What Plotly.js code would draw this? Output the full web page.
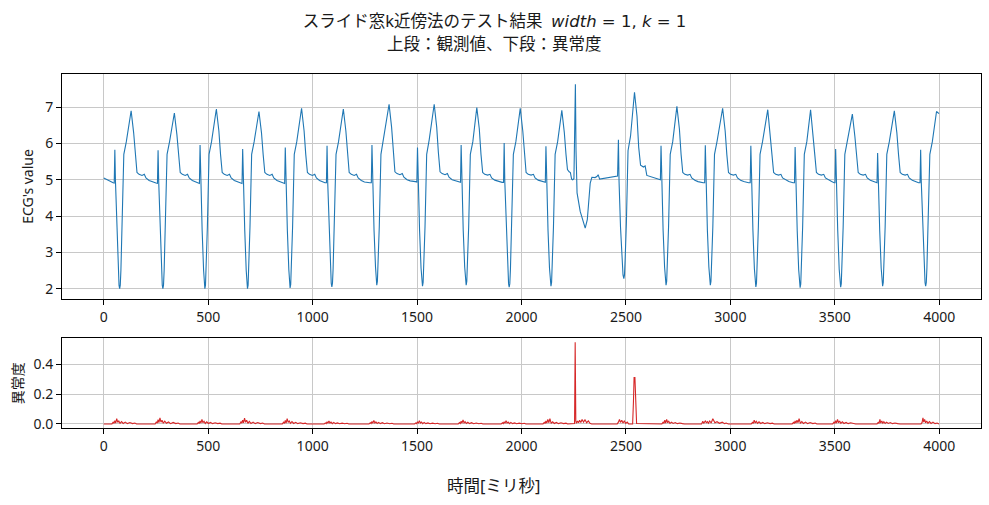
<!DOCTYPE html>
<html>
<head>
<meta charset="utf-8">
<script src="https://cdn.plot.ly/plotly-3.0.1.min.js"></script>
<style>html,body{margin:0;padding:0;background:#fff;}#chart{width:989px;height:505px;}</style>
</head>
<body>
<div id="chart"></div>
<script>
const ecgTime = [
  0,15,30,45,50,
  53,56,63,70,73,76,79,82,88,96,108,131,143,151,159,169,183,194,202,217,232,250,257,
  260,263,270,277,280,283,286,289,295,303,315,338,350,358,366,376,390,401,409,424,439,451,458,
  461,464,471,478,481,484,487,490,496,504,516,539,551,559,567,577,591,602,610,625,640,655,662,
  665,668,675,682,685,688,691,694,700,708,720,743,755,763,771,781,795,806,814,829,844,859,866,
  869,872,879,886,889,892,895,898,904,912,924,947,959,967,975,985,999,1010,1018,1033,1048,1059,1066,
  1069,1072,1079,1086,1089,1092,1095,1098,1104,1112,1124,1147,1159,1167,1175,1185,1199,1210,1218,1233,1248,1274,1281,
  1284,1287,1294,1301,1304,1307,1310,1313,1319,1327,1339,1366,1378,1386,1394,1404,1418,1429,1437,1452,1467,1492,1499,
  1502,1505,1512,1519,1523,1526,1529,1532,1538,1546,1558,1582,1594,1602,1610,1620,1634,1645,1653,1668,1683,1701,1708,
  1711,1714,1721,1728,1732,1735,1738,1741,1747,1755,1767,1786,1798,1806,1814,1824,1838,1849,1857,1872,1887,1907,1914,
  1917,1920,1927,1934,1938,1941,1944,1947,1953,1961,1973,1994,2006,2014,2022,2032,2046,2057,2065,2080,2095,2107,2114,
  2117,2120,2127,2134,2138,2141,2144,2147,2153,2161,2173,2193,2205,2213,2220,2228,2234,2240,2245,2251,
  2258,2261,2266,2281,2305,2315,2329,2337,2352,2361,2367,2374,2408,2440,2460,
  2464,2467,2474,2481,2486,2490,2493,2496,2502,2510,2522,2541,2553,2561,2570,2584,2592,2600,2616,2640,2658,2665,
  2668,2671,2678,2685,2689,2692,2695,2698,2704,2712,2724,2744,2756,2764,2772,2782,2796,2807,2815,2830,2845,2870,2877,
  2880,2883,2890,2897,2901,2904,2907,2910,2916,2924,2936,2963,2975,2983,2991,3001,3015,3026,3034,3049,3064,3088,3095,
  3098,3101,3108,3115,3119,3122,3125,3128,3134,3142,3154,3179,3191,3199,3207,3217,3231,3242,3250,3265,3280,3300,3307,
  3310,3313,3320,3327,3331,3334,3337,3340,3346,3354,3366,3384,3396,3404,3412,3422,3436,3447,3455,3470,3485,3497,3501,
  3504,3507,3514,3521,3525,3528,3531,3534,3540,3548,3560,3584,3596,3604,3612,3622,3636,3647,3655,3670,3685,3698,3702,
  3705,3708,3715,3722,3726,3729,3732,3735,3741,3749,3761,3785,3797,3805,3813,3823,3837,3848,3856,3871,3886,3901,3908,
  3911,3914,3921,3928,3932,3935,3938,3941,3947,3955,3967,3987,3999
];
const ecgValue = [
  5.05,5.0,4.96,4.92,4.91,
  5.83,4.95,3.6,2.5,2.1,2.0,2.1,2.5,3.7,5.7,6.05,6.90,6.3,5.7,5.2,5.15,5.12,5.15,5.05,4.98,4.94,4.91,4.9,
  5.81,4.95,3.6,2.5,2.1,2.0,2.1,2.5,3.7,5.7,6.05,6.84,6.25,5.7,5.2,5.15,5.12,5.15,5.05,4.98,4.94,4.91,4.9,
  5.96,4.95,3.6,2.5,2.1,2.0,2.1,2.5,3.7,5.7,6.05,6.95,6.35,5.7,5.2,5.15,5.12,5.15,5.05,4.98,4.94,4.91,4.9,
  5.85,4.95,3.6,2.5,2.1,2.0,2.1,2.5,3.7,5.7,6.05,6.88,6.3,5.7,5.2,5.15,5.12,5.15,5.05,4.98,4.94,4.91,4.9,
  5.89,4.95,3.6,2.52,2.12,2.02,2.12,2.52,3.7,5.7,6.05,6.97,6.35,5.7,5.2,5.15,5.12,5.15,5.05,4.98,4.94,4.92,4.92,
  5.94,4.95,3.6,2.55,2.15,2.05,2.15,2.55,3.7,5.7,6.05,6.95,6.35,5.7,5.2,5.15,5.12,5.15,5.05,4.98,4.94,4.92,4.92,
  5.96,4.95,3.6,2.6,2.2,2.1,2.2,2.6,3.7,5.7,6.1,7.08,6.45,5.75,5.22,5.17,5.14,5.17,5.07,5.0,4.97,4.95,4.94,
  5.89,4.95,3.6,2.57,2.17,2.07,2.17,2.57,3.7,5.7,6.1,7.08,6.45,5.75,5.22,5.17,5.14,5.17,5.07,5.0,4.97,4.94,4.93,
  5.96,4.95,3.6,2.6,2.2,2.1,2.2,2.6,3.7,5.7,6.05,6.99,6.4,5.7,5.2,5.15,5.13,5.15,5.05,4.99,4.96,4.93,4.93,
  6.01,4.95,3.6,2.54,2.14,2.04,2.14,2.54,3.7,5.7,6.05,6.97,6.35,5.7,5.2,5.15,5.13,5.15,5.05,4.99,4.96,4.93,4.93,
  5.92,4.95,3.6,2.57,2.17,2.07,2.17,2.57,3.7,5.7,6.05,6.91,6.3,5.7,5.28,5.22,5.2,5.02,5.0,5.03,
  7.63,5.8,4.64,4.13,3.67,3.9,4.91,5.07,5.06,5.09,5.14,5.02,5.05,5.08,5.1,
  6.1,4.95,3.7,2.78,2.38,2.28,2.38,2.78,3.8,5.8,6.2,7.41,6.75,5.9,5.4,5.35,5.38,5.12,5.09,5.05,5.0,5.0,
  5.94,4.95,3.6,2.6,2.2,2.1,2.2,2.6,3.7,5.7,6.05,7.02,6.4,5.7,5.2,5.15,5.13,5.15,5.05,4.99,4.95,4.92,4.92,
  5.95,4.95,3.6,2.6,2.2,2.1,2.2,2.6,3.7,5.7,6.05,6.97,6.35,5.7,5.2,5.15,5.13,5.15,5.05,4.99,4.95,4.92,4.92,
  5.94,4.95,3.6,2.55,2.15,2.05,2.15,2.55,3.7,5.7,6.05,6.93,6.3,5.7,5.2,5.15,5.13,5.15,5.05,4.99,4.95,4.92,4.92,
  5.9,4.95,3.6,2.53,2.13,2.03,2.13,2.53,3.7,5.7,6.05,6.93,6.3,5.7,5.2,5.15,5.13,5.15,5.05,4.99,4.95,4.92,4.92,
  5.85,4.95,3.6,2.54,2.14,2.04,2.14,2.54,3.7,5.7,6.05,6.81,6.2,5.65,5.2,5.15,5.13,5.15,5.05,4.99,4.95,4.92,4.92,
  5.74,4.95,3.6,2.57,2.17,2.07,2.17,2.57,3.7,5.7,6.05,6.9,6.3,5.7,5.2,5.15,5.13,5.15,5.05,4.99,4.95,4.92,4.92,
  5.83,4.95,3.6,2.57,2.17,2.07,2.17,2.57,3.7,5.7,6.05,6.88,6.82
];

// Anomaly score (time in ms, score)
const scoreTime = [
  0,
  39,45,49,53,57,62,67,72,78,85,93,103,113,125,138,149,157,
  246,252,256,260,264,269,274,279,285,292,300,310,320,332,345,356,364,
  447,453,457,461,465,470,475,480,486,493,501,511,521,533,546,557,565,
  651,657,661,665,669,674,679,684,690,697,705,715,725,737,750,761,769,
  855,861,865,869,873,878,883,888,894,901,909,919,929,941,954,965,973,
  1055,1061,1065,1069,1073,1078,1083,1088,1094,1101,1109,1119,1129,1141,1154,1165,1173,
  1270,1276,1280,1284,1288,1293,1298,1303,1309,1316,1324,1334,1344,1356,1369,1380,1388,
  1488,1494,1498,1502,1506,1511,1516,1521,1527,1534,1542,1552,1562,1574,1587,1598,1606,
  1697,1703,1707,1711,1715,1720,1725,1730,1736,1743,1751,1761,1771,1783,1796,1807,1815,
  1903,1909,1913,1917,1921,1926,1931,1936,1942,1949,1957,1967,1977,1989,2002,2013,2021,
  2103,2109,2113,2117,2121,2126,2131,2136,2142,2149,2157,2167,2177,2189,2202,2213,2221,
  2254,2257,2260,
  2263,2268,2273,2278,2284,2290,2297,2304,2312,2320,2328,2336,
  2458,2464,2469,2474,2480,2486,2492,2499,2506,2513,
  2532,2536,2539,2543,2547,2551,
  2672,2678,2682,2686,2690,2695,2700,2705,2711,2718,2726,2736,2746,2758,2771,2780,
  2862,2868,2872,2876,2880,2885,2890,2895,2901,2908,2916,2926,2936,2948,2961,2972,2980,2990,
  3100,3106,3110,3114,3119,3124,3130,3137,3145,3155,3165,3177,3190,3201,3210,
  3296,3302,3306,3310,3314,3319,3324,3329,3335,3342,3350,3360,3370,3382,3395,3406,3414,
  3490,3496,3500,3504,3508,3513,3518,3523,3529,3536,3544,3554,3564,3576,3589,3600,
  3702,3708,3712,3716,3720,3725,3730,3735,3741,3748,3756,3766,3776,3788,3801,3812,
  3913,3918,3922,3926,3930,3935,3940,3946,3953,3961,3970,3980,3990,3999
];
const scoreValue = [
  0,
  0,0.012,0.004,0.022,0.006,0.035,0.01,0.02,0.004,0.016,0.003,0.012,0.002,0.009,0.002,0.006,0,
  0,0.015,0.005,0.028,0.008,0.04,0.012,0.025,0.005,0.018,0.004,0.013,0.002,0.01,0.002,0.006,0,
  0,0.01,0.003,0.02,0.005,0.03,0.008,0.018,0.003,0.014,0.003,0.01,0.002,0.008,0.002,0.005,0,
  0,0.014,0.005,0.026,0.007,0.038,0.011,0.024,0.004,0.017,0.003,0.012,0.002,0.009,0.002,0.006,0,
  0,0.012,0.004,0.024,0.006,0.036,0.01,0.02,0.004,0.015,0.003,0.011,0.002,0.008,0.002,0.005,0,
  0,0.007,0.002,0.014,0.004,0.02,0.006,0.012,0.002,0.01,0.002,0.007,0.001,0.005,0.001,0.004,0,
  0,0.008,0.003,0.016,0.004,0.024,0.006,0.014,0.003,0.01,0.002,0.008,0.001,0.006,0.001,0.004,0,
  0,0.007,0.002,0.015,0.004,0.022,0.006,0.013,0.002,0.01,0.002,0.007,0.001,0.005,0.001,0.004,0,
  0,0.009,0.003,0.018,0.005,0.027,0.007,0.015,0.003,0.011,0.002,0.008,0.001,0.006,0.001,0.004,0,
  0,0.008,0.003,0.015,0.004,0.022,0.006,0.013,0.002,0.01,0.002,0.007,0.001,0.005,0.001,0.004,0,
  0,0.01,0.003,0.02,0.005,0.03,0.008,0.035,0.004,0.014,0.003,0.01,0.002,0.008,0.002,0.005,0,
  0.003,0.546,0.02,
  0.005,0.02,0.008,0.025,0.01,0.03,0.012,0.028,0.008,0.02,0.004,0,
  0,0.012,0.03,0.01,0.025,0.006,0.02,0.004,0.012,0,
  0,0.15,0.31,0.31,0.15,0.003,
  0,0.012,0.004,0.025,0.006,0.03,0.008,0.018,0.003,0.012,0.003,0.009,0.002,0.006,0.002,0,
  0,0.018,0.004,0.01,0.02,0.008,0.015,0.005,0.02,0.006,0.035,0.008,0.015,0.004,0.012,0.002,0.006,0,
  0,0.01,0.004,0.025,0.006,0.018,0.004,0.014,0.003,0.01,0.002,0.008,0.002,0.005,0,
  0,0.01,0.003,0.02,0.005,0.025,0.008,0.035,0.004,0.016,0.003,0.012,0.002,0.009,0.002,0.006,0,
  0,0.012,0.004,0.022,0.006,0.03,0.008,0.02,0.004,0.014,0.003,0.01,0.002,0.008,0.002,0,
  0,0.01,0.004,0.03,0.006,0.02,0.005,0.015,0.003,0.012,0.003,0.009,0.002,0.006,0.002,0,
  0,0.01,0.04,0.012,0.03,0.008,0.02,0.004,0.016,0.003,0.012,0.002,0.006,0
];

const xTicks = [0, 500, 1000, 1500, 2000, 2500, 3000, 3500, 4000];
const ecgTicks = [2, 3, 4, 5, 6, 7];
const scoreTicks = [0, 0.2, 0.4];

const titleLine1 = 'スライド窓k近傍法のテスト結果 &nbsp;<span style="font-family:\'DejaVu Sans\'"><i>width</i> = 1, <i>k</i> = 1</span>';
const titleLine2 = '上段：観測値、下段：異常度';
const xLabel = '時間[ミリ秒]';
const ecgLabel = "ECG's value";
const scoreLabel = '異常度';

const FONT = 'Noto Sans, Noto Sans CJK JP, sans-serif';

const traces = [
  {x: ecgTime, y: ecgValue, type: 'scatter', mode: 'lines',
   line: {color: '#1f77b4', width: 1.1}, xaxis: 'x', yaxis: 'y', hoverinfo: 'skip'},
  {x: scoreTime, y: scoreValue, type: 'scatter', mode: 'lines',
   line: {color: '#d62728', width: 1.1}, xaxis: 'x2', yaxis: 'y2', hoverinfo: 'skip'}
];

const axCommon = {
  showline: true, mirror: true, linecolor: '#000', linewidth: 1,
  ticks: 'outside', ticklen: 5, tickwidth: 1, tickcolor: '#000',
  showgrid: true, gridcolor: '#c8c8c8', gridwidth: 1,
  zeroline: false, tickfont: {family: FONT, size: 14, color: '#1a1a1a'}
};

const layout = {
  width: 989, height: 505,
  paper_bgcolor: '#fff', plot_bgcolor: '#fff',
  margin: {l: 62, r: 8, t: 74, b: 77},
  showlegend: false,
  font: {family: FONT, color: '#1a1a1a'},
  title: {text: titleLine1, font: {family: FONT, size: 16.5, color: '#1a1a1a'},
          x: 0.5, xref: 'container', xanchor: 'center',
          y: 1 - 21.5 / 505, yref: 'container', yanchor: 'middle'},
  xaxis: Object.assign({}, axCommon, {domain: [0, 1], anchor: 'y', range: [-200, 4199.95],
          tickvals: xTicks}),
  yaxis: Object.assign({}, axCommon, {domain: [0.3644, 1], anchor: 'x', range: [1.717, 7.913],
          tickvals: ecgTicks,
          title: {text: ecgLabel, font: {family: FONT, size: 14, color: '#1a1a1a'}, standoff: 8}}),
  xaxis2: Object.assign({}, axCommon, {domain: [0, 1], anchor: 'y2', range: [-200, 4199.95],
          tickvals: xTicks}),
  yaxis2: Object.assign({}, axCommon, {domain: [0, 0.2534], anchor: 'x2', range: [-0.0273, 0.5733],
          tickvals: scoreTicks, tickformat: '.1f',
          title: {text: scoreLabel, font: {family: FONT, size: 14, color: '#1a1a1a'}, standoff: 6}}),
  annotations: [
    {text: titleLine2, xref: 'paper', yref: 'paper', x: (494.5 - 62) / 919, y: 1 + 30.5 / 354,
     xanchor: 'center', yanchor: 'middle', showarrow: false,
     font: {family: FONT, size: 16.5, color: '#1a1a1a'}},
    {text: xLabel, xref: 'paper', yref: 'paper', x: (493 - 62) / 919, y: -57 / 354,
     xanchor: 'center', yanchor: 'middle', showarrow: false,
     font: {family: FONT, size: 16.5, color: '#1a1a1a'}}
  ]
};

Plotly.newPlot('chart', traces, layout, {staticPlot: true, displayModeBar: false});
</script>
</body>
</html>
